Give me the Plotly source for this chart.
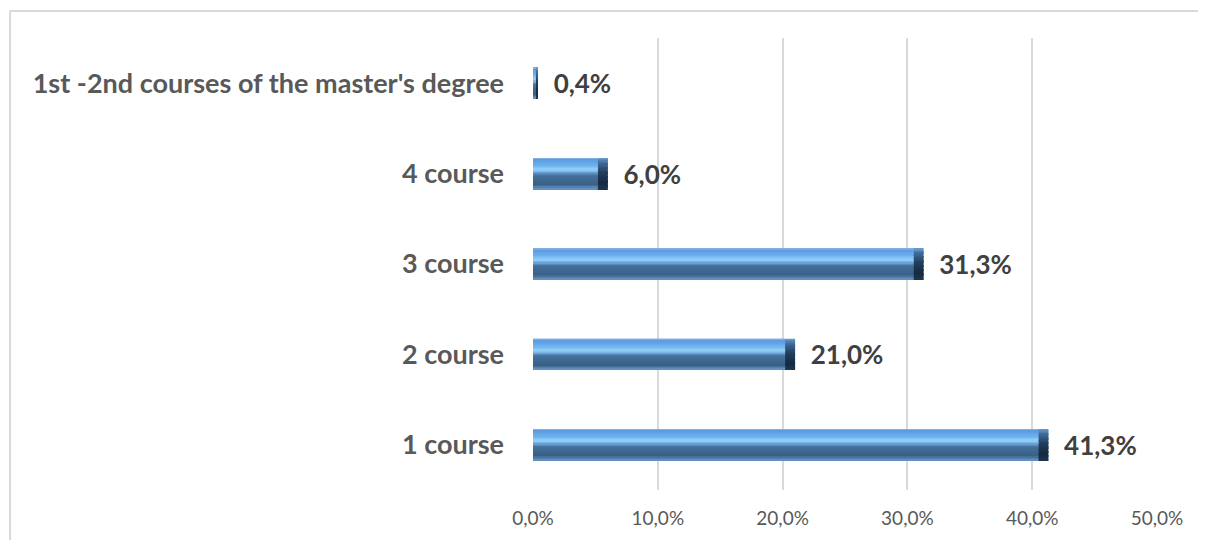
import plotly.graph_objects as go

categories = ["1 course", "2 course", "3 course", "4 course", "1st -2nd courses of the master's degree"]
values = [41.3, 21.0, 31.3, 6.0, 0.4]
x_tickvals = [0, 10, 20, 30, 40, 50]
x_ticktext = ["0,0%", "10,0%", "20,0%", "30,0%", "40,0%", "50,0%"]

labels = ["  " + f"{v:.1f}%".replace(".", ",") for v in values]

BAR_W = 0.343
FONT = "Lato, 'Open Sans', sans-serif"
N_BANDS = 24


def hex2rgb(h):
    h = h.lstrip("#")
    return [int(h[i:i + 2], 16) for i in (0, 2, 4)]


def interp(stops, f):
    for (f0, c0), (f1, c1) in zip(stops[:-1], stops[1:]):
        if f0 <= f <= f1:
            t = 0 if f1 == f0 else (f - f0) / (f1 - f0)
            a, b = hex2rgb(c0), hex2rgb(c1)
            return "rgb(%d,%d,%d)" % tuple(round(a[i] + (b[i] - a[i]) * t) for i in range(3))
    return stops[-1][1]


body_stops = [
    (0.00, "#93bbe2"), (0.06, "#5d9be0"), (0.24, "#6cb0ee"), (0.38, "#94d3fb"),
    (0.48, "#6aa0d3"), (0.57, "#44709b"), (0.86, "#3a5f86"), (0.93, "#4f7caa"), (1.00, "#6b97c6"),
]
end_stops = [
    (0.00, "#6f9fcf"), (0.15, "#3f6e9c"), (0.45, "#23405f"), (0.80, "#152a40"), (1.00, "#1d3550"),
]

fig = go.Figure()

# full bar carrying the value labels
fig.add_trace(go.Bar(
    y=categories, x=values, orientation="h", width=BAR_W, offset=-BAR_W / 2,
    marker=dict(color="rgba(0,0,0,0)", line=dict(width=0)),
    text=labels, textposition="outside", cliponaxis=False, constraintext="none",
    textfont=dict(family=FONT, size=26, color="#404040", weight="bold"),
    hoverinfo="skip", showlegend=False,
))

inner = [max(v - min(0.8, v * 0.4), 0) for v in values]
for xs, stops in [(values, end_stops), (inner, body_stops)]:
    for k in range(N_BANDS):
        f0 = k / N_BANDS
        f1 = (k + 1) / N_BANDS
        top = BAR_W / 2 - f0 * BAR_W
        bot = BAR_W / 2 - f1 * BAR_W
        col = interp(stops, (f0 + f1) / 2)
        fig.add_trace(go.Bar(
            y=categories, x=xs, orientation="h",
            width=(top - bot) * 1.02, offset=bot,
            marker=dict(color=col, line=dict(width=0)),
            hoverinfo="skip", showlegend=False,
        ))

fig.update_layout(
    barmode="overlay",
    width=1198, height=532,
    margin=dict(l=525, r=49, t=30, b=50),
    paper_bgcolor="white", plot_bgcolor="white",
    font=dict(family=FONT),
    xaxis=dict(
        range=[0, 50], tickvals=x_tickvals, ticktext=x_ticktext,
        showgrid=True, gridcolor="#d9d9d9", gridwidth=2,
        zeroline=False, showline=False, ticks="",
        tickfont=dict(family=FONT, size=19, color="#595959"),
        ticklabelstandoff=15,
    ),
    yaxis=dict(
        categoryorder="array", categoryarray=categories,
        showgrid=False, zeroline=False, showline=False, ticks="",
        tickfont=dict(family=FONT, size=27, color="#595959", weight="bold"),
        ticklabelstandoff=28,
    ),
    shapes=[
        dict(type="line", xref="paper", yref="paper", x0=-0.838, x1=1.1, y0=1.0597, y1=1.0597,
             line=dict(color="#d9d9d9", width=2)),
        dict(type="line", xref="paper", yref="paper", x0=-0.838, x1=-0.838, y0=1.0597, y1=-0.12,
             line=dict(color="#d9d9d9", width=2)),
    ],
)

fig.write_html("out.html")
